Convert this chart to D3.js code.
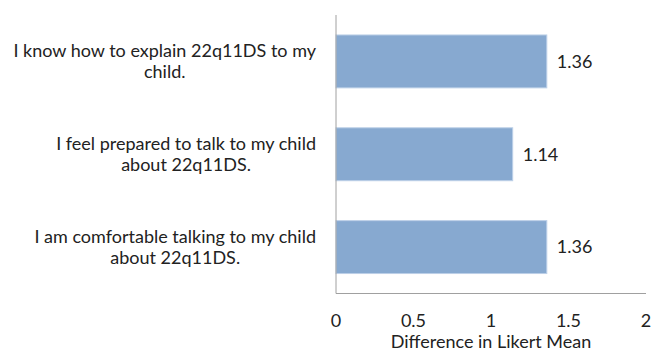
<!DOCTYPE html>
<html>
<head>
<meta charset="utf-8">
<script src="https://cdn.jsdelivr.net/npm/d3@7"></script>
<style>
  body { margin: 0; background: #fff; }
  text { font-family: Lato, "Open Sans", sans-serif; fill: #222; }
</style>
</head>
<body>
<div id="chart"></div>
<script>
// categories (each one split into its display lines) and values
var labels = [
  ["I know how to explain 22q11DS to my", "child."],
  ["I feel prepared to talk to my child", "about 22q11DS."],
  ["I am comfortable talking to my child", "about 22q11DS."]
];
var values = [1.36, 1.14, 1.36];
var ticks = [0, 0.5, 1, 1.5, 2];
var xTitle = "Difference in Likert Mean";

var width = 656, height = 358;
var plotLeft = 336, plotRight = 646, plotTop = 15, plotBottom = 293.5;
var fs = "18px";

var svg = d3.select("#chart").append("svg")
  .attr("width", width)
  .attr("height", height);

var x = d3.scaleLinear().domain([0, 2]).range([plotLeft, plotRight]);
var y = d3.scaleBand().domain(d3.range(values.length)).range([plotTop, plotBottom])
  .paddingInner(0.43).paddingOuter(0.215);

// bars
svg.selectAll(".bar")
  .data(values)
  .enter().append("rect")
  .attr("class", "bar")
  .attr("x", x(0))
  .attr("y", (d, i) => y(i))
  .attr("width", d => x(d) - x(0))
  .attr("height", y.bandwidth())
  .attr("fill", "#87a9d0")
  .attr("stroke", "#bcd0e8")
  .attr("stroke-width", 1);

// value labels
svg.selectAll(".val")
  .data(values)
  .enter().append("text")
  .attr("class", "val")
  .attr("x", d => x(d) + 10)
  .attr("y", (d, i) => y(i) + y.bandwidth() / 2)
  .attr("dy", "0.35em")
  .style("font-size", fs)
  .text(d => d.toFixed(2));

// axes lines
svg.append("line")
  .attr("x1", x(0)).attr("x2", x(0))
  .attr("y1", plotTop).attr("y2", plotBottom)
  .attr("stroke", "#a0a0a0");
svg.append("line")
  .attr("x1", x(0)).attr("x2", x(2))
  .attr("y1", plotBottom).attr("y2", plotBottom)
  .attr("stroke", "#a0a0a0");

// x tick labels
svg.selectAll(".tick")
  .data(ticks)
  .enter().append("text")
  .attr("class", "tick")
  .attr("x", d => x(d))
  .attr("y", 327)
  .attr("text-anchor", "middle")
  .style("font-size", fs)
  .text(d => d);

svg.append("text")
  .attr("x", (x(0) + x(2)) / 2)
  .attr("y", 348)
  .attr("text-anchor", "middle")
  .style("font-size", fs)
  .text(xTitle);

// category labels: block right edge at 316, lines centered in block
labels.forEach(function(lines, i) {
  var g = svg.append("g");
  var cy = y(i) + y.bandwidth() / 2;
  var lh = 20.5;
  var ts = g.selectAll("text")
    .data(lines)
    .enter().append("text")
    .attr("y", (d, j) => cy + (j - (lines.length - 1) / 2) * lh)
    .attr("dy", "0.35em")
    .attr("text-anchor", "middle")
    .style("font-size", fs)
    .text(d => d);
  var maxW = d3.max(ts.nodes(), n => n.getComputedTextLength());
  ts.attr("x", 316 - maxW / 2);
});
</script>
</body>
</html>
